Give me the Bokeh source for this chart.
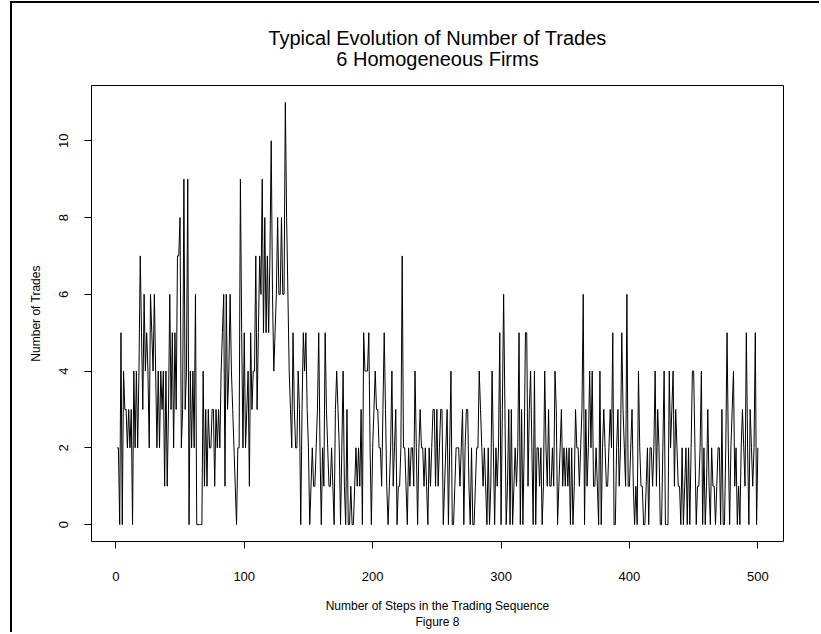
from bokeh.plotting import figure
from bokeh.models import Range1d, LinearAxis, FixedTicker
from bokeh.embed import file_html
from bokeh.resources import INLINE

title_line1 = "Typical Evolution of Number of Trades"
title_line2 = "6 Homogeneous Firms"
x_label_line1 = "Number of Steps in the Trading Sequence"
x_label_line2 = "Figure 8"
y_label = "Number of Trades"
x_ticks = [0, 100, 200, 300, 400, 500]
y_ticks = [0, 2, 4, 6, 8, 10]

# Number of trades at each step in blocks
trades_001_057 = [2, 2, 0, 5, 0, 4, 3, 3, 2, 3, 2, 3, 0, 4, 2, 4, 2, 4, 7, 5,
                  3, 6, 4, 5, 4, 2, 6, 5, 4, 6, 4, 2, 4, 2, 4, 3, 4, 1, 4, 1,
                  3, 6, 3, 5, 2, 5, 3, 7, 7, 8, 2, 3, 9, 3, 4, 9, 0]
trades_058_120 = [4, 2, 4, 2, 6, 0, 0, 0, 0, 0, 4, 1, 3, 1, 3, 2, 2, 3, 3, 1,
                  3, 2, 3, 2, 4, 5, 6, 1, 6, 3, 4, 6, 4, 3, 2, 1, 0, 2, 2, 9,
                  5, 2, 5, 2, 3, 4, 1, 5, 3, 4, 4, 7, 3, 5, 7, 6, 9, 5, 8, 5,
                  7, 5, 7]
trades_121_180 = [10, 6, 4, 5, 6, 8, 6, 6, 8, 6, 6, 11, 8, 6, 4, 3, 2, 5, 3, 2,
                  2, 4, 3, 0, 3, 5, 4, 5, 3, 2, 0, 1, 2, 1, 1, 2, 3, 5, 2, 0,
                  2, 1, 5, 3, 2, 1, 1, 2, 1, 0, 3, 4, 3, 2, 0, 2, 4, 1, 0, 3]
trades_181_244 = [0, 0, 1, 0, 0, 1, 2, 1, 2, 1, 3, 0, 5, 4, 4, 4, 5, 2, 0, 2,
                  3, 4, 3, 3, 2, 2, 1, 3, 5, 3, 1, 0, 1, 2, 4, 1, 2, 3, 0, 1,
                  1, 2, 7, 2, 2, 1, 0, 2, 1, 2, 2, 1, 4, 2, 0, 2, 3, 2, 2, 1,
                  2, 1, 0, 2]
trades_245_306 = [1, 2, 3, 3, 1, 3, 1, 2, 3, 3, 0, 1, 2, 3, 0, 2, 4, 0, 0, 1,
                  2, 2, 2, 1, 2, 3, 0, 2, 3, 3, 1, 0, 2, 0, 0, 1, 2, 2, 4, 3,
                  2, 1, 2, 1, 0, 2, 0, 1, 4, 2, 0, 2, 1, 2, 5, 0, 3, 6, 3, 0,
                  1, 3]
trades_307_368 = [0, 3, 0, 1, 2, 1, 2, 5, 0, 3, 0, 2, 5, 5, 1, 3, 4, 2, 0, 4,
                  0, 2, 2, 1, 2, 0, 1, 4, 2, 1, 3, 1, 1, 2, 1, 4, 3, 0, 1, 2,
                  3, 1, 2, 1, 2, 1, 2, 0, 2, 0, 1, 3, 2, 2, 1, 2, 3, 6, 0, 3,
                  1, 2]
trades_369_427 = [4, 2, 4, 1, 1, 2, 1, 0, 4, 0, 2, 3, 2, 1, 1, 2, 3, 2, 5, 0,
                  0, 2, 3, 1, 2, 5, 3, 2, 1, 6, 1, 1, 2, 3, 1, 0, 1, 0, 4, 2,
                  1, 1, 0, 0, 1, 2, 0, 2, 2, 1, 2, 4, 1, 3, 2, 0, 0, 2, 4]
trades_428_500 = [0, 0, 0, 4, 2, 3, 4, 1, 3, 2, 1, 1, 0, 2, 0, 1, 2, 0, 2, 0,
                  2, 4, 4, 2, 0, 1, 1, 2, 4, 0, 2, 0, 1, 3, 1, 0, 2, 1, 1, 0,
                  1, 2, 2, 0, 3, 0, 0, 2, 5, 2, 0, 2, 3, 4, 1, 2, 0, 1, 0, 2,
                  3, 2, 1, 5, 2, 0, 3, 2, 1, 2, 5, 0, 2]

trades = (trades_001_057 + trades_058_120 + trades_121_180 + trades_181_244 +
          trades_245_306 + trades_307_368 + trades_369_427 + trades_428_500)
steps = list(range(1, len(trades) + 1))

FONT = "Liberation Sans"

p = figure(width=809, height=631, output_backend="svg", toolbar_location=None,
           x_range=Range1d(-18.96, 519.96), y_range=Range1d(-0.44, 11.44),
           min_border_left=79, min_border_right=38, min_border_top=82,
           min_border_bottom=93)
p.styles = {"margin-left": "10px", "margin-top": "1px",
            "border-left": "2px solid black", "border-top": "2px solid black"}
p.background_fill_color = "white"
p.border_fill_color = "white"
p.outline_line_color = "black"
p.outline_line_width = 1
p.grid.visible = False

p.line(steps, trades, line_color="black", line_width=1)

for ax in (p.xaxis[0], p.yaxis[0]):
    ax.axis_line_color = None
    ax.major_tick_out = 7
    ax.major_tick_in = 0
    ax.minor_tick_line_color = None
    ax.major_tick_line_color = "black"
    ax.major_label_text_font = FONT
    ax.major_label_text_font_size = "13px"
    ax.major_label_text_color = "black"
    ax.axis_label_text_font = FONT
    ax.axis_label_text_font_size = "12px"
    ax.axis_label_text_font_style = "normal"
    ax.axis_label_text_color = "black"

p.xaxis[0].ticker = FixedTicker(ticks=x_ticks)
p.yaxis[0].ticker = FixedTicker(ticks=y_ticks)
p.xaxis[0].major_label_standoff = 23
p.yaxis[0].major_label_standoff = 16
p.yaxis[0].major_label_orientation = "vertical"
p.yaxis[0].axis_label = y_label
p.yaxis[0].axis_label_standoff = 14

# two-line x-axis title
p.xaxis[0].axis_label = x_label_line1 + "\n" + x_label_line2
p.xaxis[0].axis_label_text_line_height = 1.2
p.xaxis[0].axis_label_standoff = 15

# two-line main title carried by a bare axis above the frame
top = LinearAxis(ticker=FixedTicker(ticks=[]), axis_line_color=None,
                 major_tick_line_color=None, minor_tick_line_color=None,
                 major_label_text_font_size="0px")
top.axis_label = title_line1 + "\n" + title_line2
top.axis_label_text_font = FONT
top.axis_label_text_font_size = "20px"
top.axis_label_text_font_style = "normal"
top.axis_label_text_color = "black"
top.axis_label_text_line_height = 0.95
top.axis_label_standoff = 16
p.add_layout(top, "above")

open("out.html", "w").write(file_html(p, INLINE))
